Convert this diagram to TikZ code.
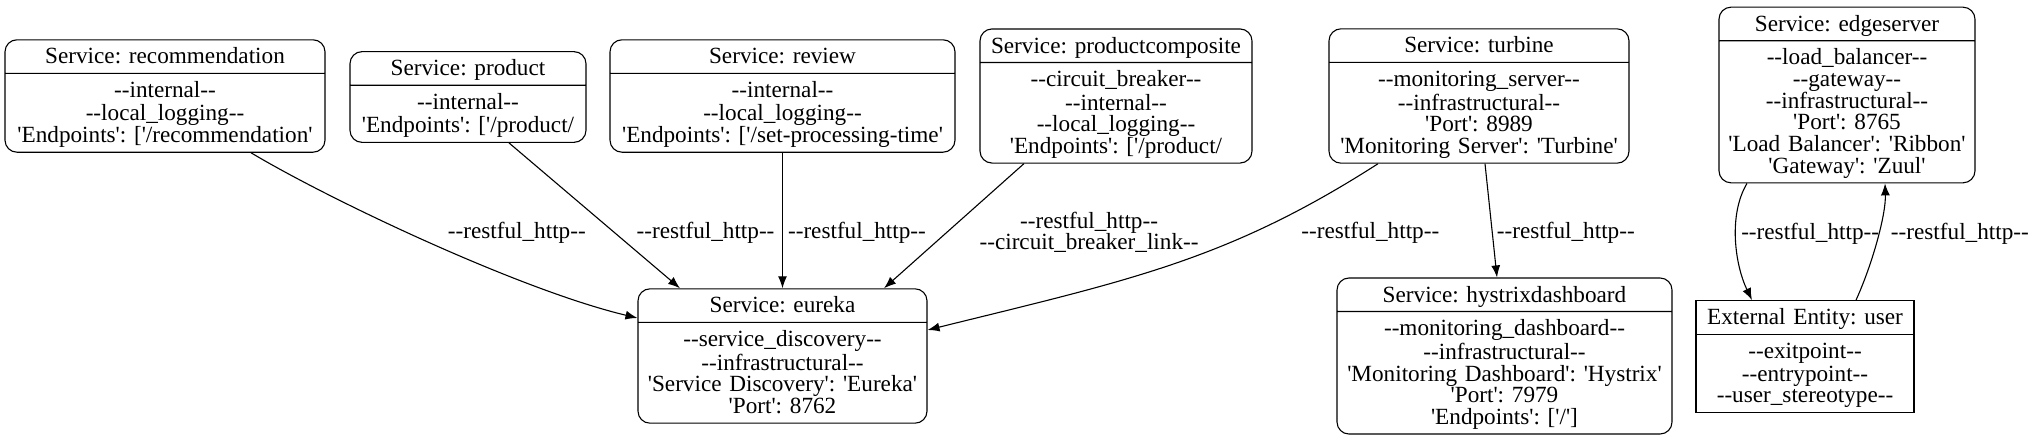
\documentclass[tikz,border=0pt]{standalone}
\usepackage{fontspec}
\setmainfont{Liberation Serif}[Ligatures=TeXOff]
\frenchspacing
\usetikzlibrary{arrows.meta, shapes.multipart}

\newcommand{\tallstrut}{\rule[-6.45pt]{0pt}{27.45pt}}

\tikzset{
    svc/.style={rectangle split, rectangle split parts=2, draw, rounded corners=12pt,
        align=center, inner xsep=4pt, inner ysep=2.5pt, line width=1.1pt},
    ent/.style={svc, rounded corners=0pt},
    edge/.style={-{Latex[length=12pt, width=9pt]}, line width=1.1pt},
    lbl/.style={inner sep=0pt, align=center}
}

\begin{document}
\begin{tikzpicture}[x=1pt, y=-1pt, font=\fontsize{23.2}{21.7}\selectfont]
    \useasboundingbox (0, 0) rectangle (2032, 440);

    \node[svc, text width=312pt] (recommendation) at (165, 96) {\tallstrut Service: recommendation
        \nodepart{two}\tallstrut --internal--\\--local\_logging--\\'Endpoints': ['/recommendation'\strut};
    \node[svc, text width=228pt] (product) at (468, 97) {\tallstrut Service: product
        \nodepart{two}\tallstrut --internal--\\'Endpoints': ['/product/\strut};
    \node[svc, text width=337pt] (review) at (782.5, 96) {\tallstrut Service: review
        \nodepart{two}\tallstrut --internal--\\--local\_logging--\\'Endpoints': ['/set-processing-time'\strut};
    \node[svc, text width=264pt] (productcomposite) at (1116, 96) {\tallstrut Service: productcomposite
        \nodepart{two}\tallstrut --circuit\_breaker--\\--internal--\\--local\_logging--\\'Endpoints': ['/product/\strut};
    \node[svc, text width=292pt] (turbine) at (1479, 96) {\tallstrut Service: turbine
        \nodepart{two}\tallstrut --monitoring\_server--\\--infrastructural--\\'Port': 8989\\'Monitoring Server': 'Turbine'\strut};
    \node[svc, text width=248pt] (edgeserver) at (1847, 95) {\tallstrut Service: edgeserver
        \nodepart{two}\tallstrut --load\_balancer--\\--gateway--\\--infrastructural--\\'Port': 8765\\'Load Balancer': 'Ribbon'\\'Gateway': 'Zuul'\strut};
    \node[svc, text width=281pt] (eureka) at (782.5, 356) {\tallstrut Service: eureka
        \nodepart{two}\tallstrut --service\_discovery--\\--infrastructural--\\'Service Discovery': 'Eureka'\\'Port': 8762\strut};
    \node[svc, text width=327pt] (hystrixdashboard) at (1504.5, 356) {\tallstrut Service: hystrixdashboard
        \nodepart{two}\tallstrut --monitoring\_dashboard--\\--infrastructural--\\'Monitoring Dashboard': 'Hystrix'\\'Port': 7979\\'Endpoints': ['/']\strut};
    \node[ent, text width=210pt] (user) at (1805, 356.5) {\tallstrut External Entity: user
        \nodepart{two}\tallstrut --exitpoint--\\--entrypoint--\\--user\_stereotype--\strut};

    \draw[edge] ([xshift=86pt]recommendation.south) .. controls (330, 200) and (520, 290) .. ([yshift=38pt]eureka.west)
        node[pos=0.45, right=39pt, lbl] {--restful\_http--};
    \draw[edge] ([xshift=41pt]product.south) -- node[pos=0.62, right=21pt, lbl] {--restful\_http--} ([xshift=-102.5pt]eureka.north);
    \draw[edge] (review) -- node[pos=0.59, right=5pt, lbl] {--restful\_http--} (eureka);
    \draw[edge] ([xshift=-92pt]productcomposite.south) -- node[pos=0.55, right=32pt, lbl] {--restful\_http--\\--circuit\_breaker\_link--} ([xshift=101.5pt]eureka.north);
    \draw[edge] ([xshift=-101pt]turbine.south) .. controls (1228, 260) and (1130, 280) .. ([yshift=26pt]eureka.east)
        node[pos=0.3, right=48pt, lbl] {--restful\_http--};
    \draw[edge] ([xshift=6pt]turbine.south) -- node[pos=0.61, right=4pt, lbl] {--restful\_http--} ([xshift=-7.5pt]hystrixdashboard.north);
    \draw[edge] ([xshift=-100pt]edgeserver.south) .. controls (1728, 215) and (1735, 265) .. ([xshift=-53pt]user.north)
        node[pos=0.45, right=5pt, lbl] {--restful\_http--};
    \draw[edge] ([xshift=51pt]user.north) .. controls (1872, 265) and (1886, 215) .. ([xshift=38pt]edgeserver.south)
        node[pos=0.55, right=12pt, lbl] {--restful\_http--};
\end{tikzpicture}
\end{document}
